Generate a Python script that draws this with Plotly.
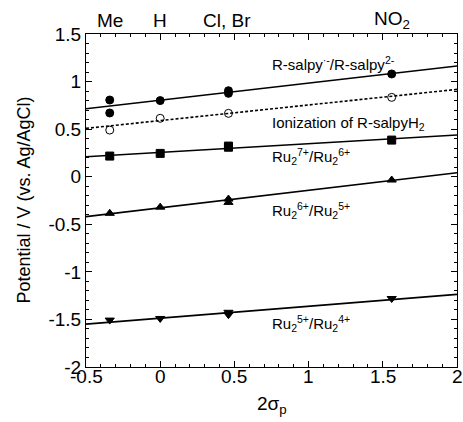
import plotly.graph_objects as go

# substituent 2*sigma_p positions
x_me, x_h, x_clbr, x_no2 = -0.34, 0.0, 0.46, 1.56

# R-salpy radical / R-salpy2- (filled circles)
salpy_x = [x_me, x_me, x_h, x_clbr, x_clbr, x_no2]
salpy_y = [0.806, 0.67, 0.80, 0.904, 0.876, 1.08]
# Ionization of R-salpyH2 (open circles)
ion_x = [x_me, x_h, x_clbr, x_no2]
ion_y = [0.49, 0.614, 0.666, 0.834]
# Ru2 7+/6+ (squares)
ru76_x = [x_me, x_h, x_clbr, x_clbr, x_no2]
ru76_y = [0.217, 0.245, 0.31, 0.322, 0.385]
# Ru2 6+/5+ (up triangles)
ru65_x = [x_me, x_h, x_clbr, x_clbr, x_no2]
ru65_y = [-0.385, -0.32, -0.235, -0.27, -0.035]
# Ru2 5+/4+ (down triangles)
ru54_x = [x_me, x_h, x_clbr, x_clbr, x_no2]
ru54_y = [-1.507, -1.49, -1.425, -1.45, -1.28]

# fitted lines, value at x=-0.5 and x=2
fit_x = [-0.5, 2.0]
fit_salpy = [0.715, 1.163]
fit_ion = [0.508, 0.918]
fit_ru76 = [0.21, 0.438]
fit_ru65 = [-0.42, 0.042]
fit_ru54 = [-1.549, -1.237]

top_labels = ["Me", "H", "Cl, Br", "NO<sub>2</sub>"]
top_label_x = [x_me, x_h, 0.45, x_no2]

x_tickvals = [-0.5, 0, 0.5, 1, 1.5, 2]
x_ticktext = ["-0.5", "0", "0.5", "1", "1.5", "2"]
y_tickvals = [-2, -1.5, -1, -0.5, 0, 0.5, 1, 1.5]
y_ticktext = ["-2", "-1.5", "-1", "-0.5", "0", "0.5", "1", "1.5"]

FONT = "Liberation Sans, Arial, Helvetica, sans-serif"

fig = go.Figure()

def line(yv, dash="solid"):
    fig.add_trace(go.Scatter(x=fit_x, y=yv, mode="lines",
                             line=dict(color="black", width=1.6, dash=dash),
                             showlegend=False, hoverinfo="skip"))

def pts(xv, yv, symbol, size=8, fill="black"):
    fig.add_trace(go.Scatter(x=xv, y=yv, mode="markers",
                             marker=dict(symbol=symbol, size=size, color=fill,
                                         line=dict(color="black", width=1)),
                             showlegend=False))

line(fit_salpy)
line(fit_ion, dash="3px,2px")
line(fit_ru76)
line(fit_ru65)
line(fit_ru54)

pts(salpy_x, salpy_y, "circle", 8)
pts(ion_x, ion_y, "circle-open", 8, fill="black")
pts(ru76_x, ru76_y, "square", 8)
pts(ru65_x, ru65_y, "triangle-up", 8)
pts(ru54_x, ru54_y, "triangle-down", 8)

label_x = 0.74
labels = [
    ("R-salpy<sup>·-</sup>/R-salpy<sup>2-</sup>", 1.195),
    ("Ionization of R-salpyH<sub>2</sub>", 0.564),
    ("Ru<sub>2</sub><sup>7+</sup>/Ru<sub>2</sub><sup>6+</sup>", 0.21),
    ("Ru<sub>2</sub><sup>6+</sup>/Ru<sub>2</sub><sup>5+</sup>", -0.35),
    ("Ru<sub>2</sub><sup>5+</sup>/Ru<sub>2</sub><sup>4+</sup>", -1.54),
]
for t, yy in labels:
    fig.add_annotation(x=label_x, y=yy, text=t, showarrow=False, xanchor="left",
                       yanchor="middle", font=dict(family=FONT, size=15, color="black"))

for t, xx in zip(top_labels, top_label_x):
    fig.add_annotation(x=xx, y=1.0, xref="x", yref="paper", yshift=14, text=t,
                       showarrow=False, xanchor="center", yanchor="middle",
                       font=dict(family=FONT, size=19, color="black"))

# x tick labels drawn as annotations (so the last one can hang past the edge)
for v, t in zip(x_tickvals, x_ticktext):
    fig.add_annotation(x=v, y=0, xref="x", yref="paper", yshift=-9, text=t,
                       showarrow=False, xanchor="center", yanchor="middle",
                       font=dict(family=FONT, size=19, color="black"))

# axis titles
fig.add_annotation(x=0.75, y=0, xref="x", yref="paper", yshift=-38,
                   text="2σ<sub>p</sub>", showarrow=False, xanchor="center", yanchor="middle",
                   font=dict(family=FONT, size=19, color="black"))
fig.add_annotation(x=0, y=0.5, xref="paper", yref="paper", xshift=-63,
                   text="Potential / V (vs. Ag/AgCl)", textangle=-90, showarrow=False,
                   xanchor="center", yanchor="middle",
                   font=dict(family=FONT, size=18, color="black"))

axis_common = dict(showgrid=False, zeroline=False, showline=True, linecolor="black",
                   linewidth=1, mirror="allticks", ticks="inside", ticklen=6,
                   tickcolor="black", tickwidth=1,
                   tickfont=dict(family=FONT, size=19, color="black"))

fig.update_xaxes(range=[-0.5, 2.0], tickmode="array", tickvals=x_tickvals,
                 showticklabels=False,
                 minor=dict(dtick=0.1, tick0=0, ticks="inside", ticklen=3, tickcolor="black"),
                 **axis_common)
fig.update_yaxes(range=[-2.0, 1.5], tickmode="array", tickvals=y_tickvals,
                 ticktext=y_ticktext,
                 minor=dict(dtick=0.1, tick0=0, ticks="inside", ticklen=3, tickcolor="black"),
                 **axis_common)

fig.update_layout(width=463, height=422, plot_bgcolor="white", paper_bgcolor="white",
                  margin=dict(l=86, r=6, t=34, b=55), showlegend=False,
                  font=dict(family=FONT, color="black"))

fig.write_html("out.html", config={"displayModeBar": False},
               post_script="document.body.style.margin='0';document.body.style.overflow='hidden';")
